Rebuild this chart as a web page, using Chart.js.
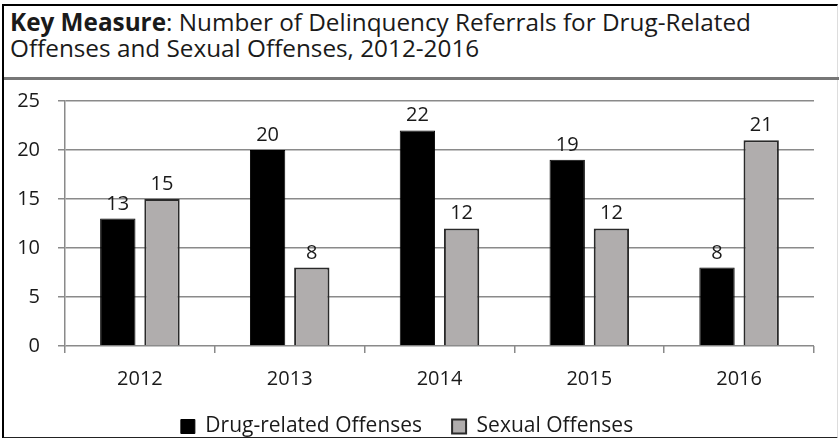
<!DOCTYPE html>
<html>
<head>
<meta charset="utf-8">
<script src="https://cdn.jsdelivr.net/npm/chart.js@4.4.3/dist/chart.umd.min.js"></script>
<style>
  html, body { margin: 0; padding: 0; background: #fff; }
  #wrap { position: relative; width: 839px; height: 438px; overflow: hidden; }
  #frame { position: absolute; left: 2px; top: 4px; width: 833px; height: 431px;
    border-left: 2px solid #000; border-top: 2px solid #000; border-bottom: 2px solid #222;
    border-right: 1px solid #ddd; }
  #title { position: absolute; left: 4px; top: 6px; width: 835px; height: 74px;
    border-bottom: 3px solid #777; font-family: "Open Sans", sans-serif;
    font-size: 24.3px; line-height: 26px; color: #1a1a1a; padding: 3px 0 0 6px; box-sizing: border-box;
    white-space: nowrap; }
  #title b { font-weight: 700; }
  canvas { position: absolute; left: 0; top: 0; }
</style>
</head>
<body>
<div id="wrap">
  <div id="frame"></div>
  <div id="title"><b>Key Measure</b>: Number of Delinquency Referrals for Drug-Related<br>Offenses and Sexual Offenses, 2012-2016</div>
  <canvas id="c" width="839" height="438"></canvas>
</div>
<script>
// chart data
const years = ['2012', '2013', '2014', '2015', '2016'];
const drugOffenses = [13, 20, 22, 19, 8];
const sexualOffenses = [15, 8, 12, 12, 21];
const yTicks = [0, 5, 10, 15, 20, 25];

const gridColor = '#8a8a8a';
const textColor = '#1a1a1a';
const fontFamily = '"Open Sans", sans-serif';

// draws value labels above each bar
const valueLabels = {
  id: 'valueLabels',
  afterDatasetsDraw(chart) {
    const ctx = chart.ctx;
    ctx.save();
    ctx.font = '20px ' + fontFamily;
    ctx.fillStyle = textColor;
    ctx.textAlign = 'center';
    ctx.textBaseline = 'alphabetic';
    chart.data.datasets.forEach((ds, i) => {
      chart.getDatasetMeta(i).data.forEach((bar, j) => {
        ctx.fillText(ds.data[j], bar.x, bar.y - 9);
      });
    });
    ctx.restore();
  }
};

new Chart(document.getElementById('c'), {
  type: 'bar',
  data: {
    labels: years,
    datasets: [
      {
        label: 'Drug-related Offenses',
        data: drugOffenses,
        backgroundColor: '#000',
        borderColor: '#000',
        borderWidth: 1
      },
      {
        label: 'Sexual Offenses',
        data: sexualOffenses,
        backgroundColor: '#b0adad',
        borderColor: '#2a2a2a',
        borderWidth: 2
      }
    ]
  },
  options: {
    responsive: false,
    animation: false,
    categoryPercentage: 0.59,
    barPercentage: 0.8,
    layout: { padding: { left: 0, right: 25, top: 101, bottom: -9 } },
    plugins: {
      tooltip: { enabled: false },
      legend: {
        position: 'bottom',
        labels: {
          color: textColor,
          font: { family: fontFamily, size: 21 },
          boxWidth: 14,
          boxHeight: 14,
          padding: 30
        }
      }
    },
    scales: {
      x: {
        grid: { drawOnChartArea: false, color: gridColor, lineWidth: 1.5, tickLength: 7 },
        border: { display: false },
        ticks: { color: textColor, font: { family: fontFamily, size: 20 }, padding: 14 },
        afterFit(scale) { scale.height = 40; }
      },
      y: {
        min: 0,
        max: 25,
        afterBuildTicks(scale) { scale.ticks = yTicks.map(v => ({ value: v })); },
        grid: { color: gridColor, lineWidth: 1.5, tickLength: 7 },
        border: { color: gridColor, width: 1.5 },
        ticks: { color: textColor, font: { family: fontFamily, size: 20 }, padding: 18 },
        afterFit(scale) { scale.width = 65; }
      }
    }
  },
  plugins: [valueLabels]
});
</script>
</body>
</html>
